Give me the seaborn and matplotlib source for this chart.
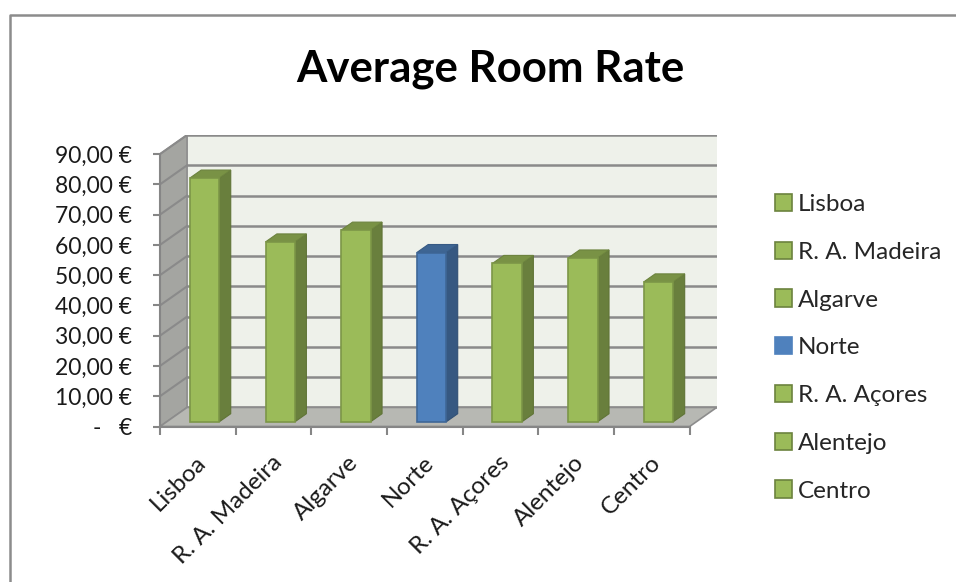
import numpy as np
import pandas as pd
import seaborn as sns
import matplotlib.pyplot as plt
from matplotlib.colors import to_rgb
from matplotlib.patches import Polygon, Patch
from matplotlib.lines import Line2D

# data
regions = ['Lisboa', 'R. A. Madeira', 'Algarve', 'Norte', 'R. A. Açores', 'Alentejo', 'Centro']
rates = [80.5, 59.4, 63.3, 55.9, 52.3, 54.1, 46.2]
bar_colors = ['#9bbb59', '#9bbb59', '#9bbb59', '#4f81bd', '#9bbb59', '#9bbb59', '#9bbb59']
y_ticks = [0, 10, 20, 30, 40, 50, 60, 70, 80, 90]
y_tick_labels = ['-   €', '10,00 €', '20,00 €', '30,00 €', '40,00 €',
                 '50,00 €', '60,00 €', '70,00 €', '80,00 €', '90,00 €']

sns.set_theme(style='white')
plt.rcParams['font.family'] = ['Lato', 'DejaVu Sans']


def shade(c, k):
    r, g, b = to_rgb(c)
    return (r * k, g * k, b * k)


# fake 3d: depth of the floor in data units, bar position/depth as fraction of it
dx, dy = 0.358, 6.3
f, bd = 0.25, 0.42
n = len(regions)
x_lo, x_hi = -0.5, n - 0.5
top = max(y_ticks)

fig = plt.figure(figsize=(9.56, 5.82), dpi=100)
ax = fig.add_axes([160 / 956, (582 - 426.5) / 582, 556.7 / 956, 291.5 / 582])

df = pd.DataFrame({'region': regions, 'rate': rates})
sns.barplot(data=df, x='region', y='rate', hue='region',
            palette=dict(zip(regions, bar_colors)), width=0.39,
            legend=False, ax=ax, zorder=4, saturation=1)
bars = list(ax.patches)

# move bars into the floor and add side/top faces
for p, c in zip(bars, bar_colors):
    x0 = p.get_x() + f * dx
    y0 = f * dy
    w, h = p.get_width(), p.get_height()
    p.set_x(x0)
    p.set_y(y0)
    p.set_edgecolor(shade(c, 0.8))
    p.set_linewidth(1.2)
    side = [(x0 + w, y0), (x0 + w + bd * dx, y0 + bd * dy),
            (x0 + w + bd * dx, y0 + h + bd * dy), (x0 + w, y0 + h)]
    lid = [(x0, y0 + h), (x0 + w, y0 + h),
           (x0 + w + bd * dx, y0 + h + bd * dy), (x0 + bd * dx, y0 + h + bd * dy)]
    ax.add_patch(Polygon(side, closed=True, facecolor=shade(c, 0.68),
                         edgecolor=shade(c, 0.62), lw=0.8, zorder=3.9))
    ax.add_patch(Polygon(lid, closed=True, facecolor=shade(c, 0.78),
                         edgecolor=shade(c, 0.7), lw=0.8, zorder=3.9))

# walls and floor
ax.add_patch(Polygon([(x_lo + dx, dy), (x_hi + dx, dy), (x_hi + dx, top + dy), (x_lo + dx, top + dy)],
                     closed=True, facecolor='#eef1ea', edgecolor='none', zorder=0))
ax.add_patch(Polygon([(x_lo, 0), (x_lo + dx, dy), (x_lo + dx, top + dy), (x_lo, top)],
                     closed=True, facecolor='#a4a5a1', edgecolor='#8c8c8c', lw=1.2, zorder=1))
ax.add_patch(Polygon([(x_lo, 0), (x_hi, 0), (x_hi + dx, dy), (x_lo + dx, dy)],
                     closed=True, facecolor='#b7b8b3', edgecolor='#8c8c8c', lw=1.2, zorder=1))
for v in y_ticks:
    ax.plot([x_lo + dx, x_hi + dx], [v + dy, v + dy], color='#8a8a8a', lw=1.8, zorder=0.5)
    if v > 0:
        ax.plot([x_lo, x_lo + dx], [v, v + dy], color='#8a8a8a', lw=1.5, zorder=1.5)

ax.set_xlim(x_lo, x_hi + dx)
ax.set_ylim(0, top + dy)
ax.set_xlabel('')
ax.set_ylabel('')

for s in ['top', 'right']:
    ax.spines[s].set_visible(False)
ax.spines['left'].set_bounds(0, top)
ax.spines['bottom'].set_bounds(x_lo, x_hi)
for s in ['left', 'bottom']:
    ax.spines[s].set_color('#868686')
    ax.spines[s].set_linewidth(1.5)
    ax.spines[s].set_zorder(5)

ax.set_yticks(y_ticks, y_tick_labels)
ax.tick_params(axis='y', left=True, length=5, width=1.5, color='#868686',
               pad=15, labelsize=16.5, labelcolor='#1a1a1a')

ax.set_xticks(np.arange(x_lo, x_hi + 0.01, 1), [''] * (n + 1))
ax.set_xticks(np.arange(n) - 0.03, regions, minor=True)
ax.tick_params(axis='x', which='major', bottom=True, length=6, width=1.5, color='#868686')
ax.tick_params(axis='x', which='minor', bottom=True, length=0, pad=18,
               labelsize=17.5, labelcolor='#1a1a1a')
for lbl in ax.get_xticklabels(minor=True):
    lbl.set_rotation(45)
    lbl.set_ha('right')
    lbl.set_va('top')
    lbl.set_rotation_mode('anchor')

fig.text(490 / 956, 1 - 82 / 582, 'Average Room Rate', ha='center', va='baseline',
         fontsize=31.5, fontweight='bold', color='black')

handles = [Patch(facecolor=c, edgecolor=shade(c, 0.7) if c != '#4f81bd' else c, lw=1.2)
           for c in bar_colors]
fig.legend(handles, regions, loc='upper left', bbox_to_anchor=(775 / 956, 1 - 194 / 582),
           frameon=False, fontsize=17.5, handlelength=0.7, handleheight=0.7,
           handletextpad=0.25, labelspacing=1.1, borderpad=0, borderaxespad=0)

# chart frame
fig.add_artist(Line2D([9.5 / 956, 9.5 / 956, 1], [0, 1 - 15 / 582, 1 - 15 / 582],
                      transform=fig.transFigure, color='#8c8c8c', lw=1.8))

fig.savefig('out.png', dpi=100)
